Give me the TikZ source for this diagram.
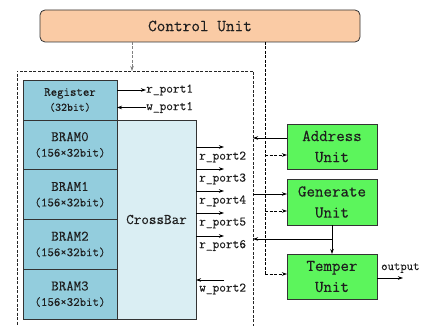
\documentclass[tikz,border=0pt]{standalone}
\usepackage{fontspec}
\setmonofont{Latin Modern Mono}[FakeBold=0.3]
\usetikzlibrary{arrows.meta}
\definecolor{cuorange}{RGB}{250,203,165}
\definecolor{bramblue}{RGB}{147,205,221}
\definecolor{xbarblue}{RGB}{218,238,243}
\definecolor{ugreen}{RGB}{92,245,92}
\definecolor{txt}{RGB}{30,30,30}
\begin{document}
\begin{tikzpicture}[x=1pt,y=-1pt,
  box/.style={draw=black!80, line width=0.8pt, inner sep=0pt, outer sep=0pt, anchor=north west, align=center, text=txt},
  mem/.style={box, fill=bramblue, minimum width=94pt, minimum height=49.75pt},
  unitbox/.style={box, fill=ugreen, minimum width=90pt, minimum height=45pt, font=\ttfamily\fontsize{16.5}{21}\selectfont},
  port/.style={inner sep=0pt, anchor=west, text=txt, font=\ttfamily\fontsize{13}{14}\selectfont},
  arr/.style={line width=0.7pt, -{Stealth[length=5pt,width=3.5pt]}},
  dsh/.style={dash pattern=on 3pt off 1.5pt, line width=0.7pt},
]
\useasboundingbox (0,0) rectangle (421,326);
\clip (0,0) rectangle (421,326);
\newcommand\bramtxt[1]{{\ttfamily\fontsize{14.5}{17}\selectfont #1}\\[3.5pt]{\ttfamily\fontsize{12.5}{15}\selectfont (156×32bit)}}

% control unit
\node[box, fill=cuorange, rounded corners=5pt, minimum width=320pt, minimum height=32pt,
      font=\ttfamily\fontsize{16.8}{18}\selectfont] (cu) at (40,10) {Control Unit};

% outer dashed box
\node[draw=black!85, dsh, anchor=north west, minimum width=236pt, minimum height=290pt, inner sep=0pt, outer sep=0pt] (outer) at (17,71) {};
\draw[dsh, draw=black!50, arr] (cu.south -| 132,0) -- (outer.north -| 132,0);

% memory blocks
\node[mem, minimum height=40pt] (reg) at (23,80) {{\ttfamily\fontsize{12.5}{14}\selectfont Register}\\[3pt]{\ttfamily\fontsize{11.5}{13}\selectfont (32bit)}};
\node[mem] (b0) at (23,120) {\bramtxt{BRAM0}};
\node[mem] (b1) at (23,169.75) {\bramtxt{BRAM1}};
\node[mem] (b2) at (23,219.5) {\bramtxt{BRAM2}};
\node[mem] (b3) at (23,269.25) {\bramtxt{BRAM3}};
\node[box, fill=xbarblue, minimum width=79pt, minimum height=199pt, font=\ttfamily\fontsize{14.7}{16}\selectfont] (xbar) at (117,120) {CrossBar};

% register ports
\node[port] (rp1) at (146,90) {r\_port1};
\node[port] (wp1) at (146,107.5) {w\_port1};
\draw[arr] (reg.east |- rp1.west) -- (rp1.west);
\draw[arr] (wp1.west) -- (reg.east |- wp1.west);

% crossbar ports
\node[port] (rp2) at (199,157) {r\_port2};
\node[port] (rp3) at (199,179) {r\_port3};
\node[port] (rp4) at (199,201) {r\_port4};
\node[port] (rp5) at (199,223) {r\_port5};
\node[port] (rp6) at (199,245.5) {r\_port6};
\node[port] (wp2) at (199,289) {w\_port2};
\coordinate (e2) at (224,147);
\coordinate (e3) at (224,169);
\coordinate (e4) at (224,191);
\coordinate (e5) at (224,213);
\coordinate (e6) at (224,236);
\coordinate (e7) at (224,280);
\draw[arr] (xbar.east |- e2) -- (e2);
\draw[arr] (xbar.east |- e3) -- (e3);
\draw[arr] (xbar.east |- e4) -- (e4);
\draw[arr] (xbar.east |- e5) -- (e5);
\draw[arr] (xbar.east |- e6) -- (e6);
\draw[arr] (e7) -- (xbar.east |- e7);

% units
\node[unitbox] (addr) at (287,124) {Address\\Unit};
\node[unitbox, minimum height=46pt] (gen) at (287,179) {Generate\\Unit};
\node[unitbox] (temp) at (287,254) {Temper\\Unit};

% connection points
\coordinate (a1) at ([yshift=8.5pt]addr.west);
\coordinate (a2) at ([yshift=-8.5pt]addr.west);
\coordinate (g1) at ([yshift=8pt]gen.west);
\coordinate (g2) at ([yshift=-9pt]gen.west);
\coordinate (br) at (333,239);

% solid connections
\draw[arr] (a1) -- (outer.east |- a1);
\draw[arr] (outer.east |- g1) -- (g1);
\draw[arr] (gen.south) -- (temp.north);
\draw[arr] (gen.south |- br) -- (outer.east |- br);

% dashed control bus
\coordinate (bus) at (265,274);
\draw[dsh] (cu.south -| bus) -- (bus);
\draw[dsh, arr] (bus) -- (temp.west |- bus);
\draw[dsh, arr] (bus |- a2) -- (a2);
\draw[dsh, arr] (bus |- g2) -- (g2);

% output
\node[port, font=\ttfamily\fontsize{12.4}{14}\selectfont] (out) at (381,268) {output};
\coordinate (oe) at (403,278);
\draw[arr] (temp.east |- oe) -- (oe);
\end{tikzpicture}
\end{document}
